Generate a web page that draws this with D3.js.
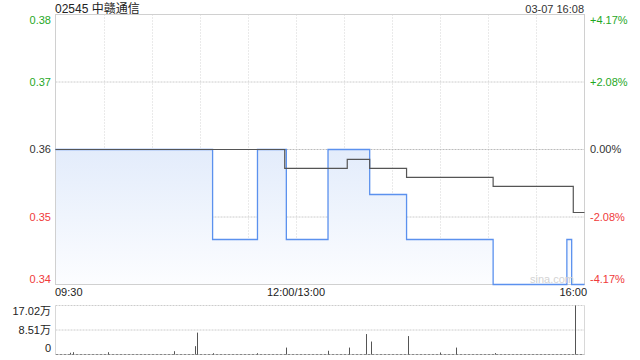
<!DOCTYPE html>
<html>
<head>
<meta charset="utf-8">
<script src="https://cdn.jsdelivr.net/npm/d3@7"></script>
<style>
  html, body { margin: 0; padding: 0; background: #fff; }
  svg { display: block; font-family: "Liberation Sans", Arial, "Noto Sans CJK SC", sans-serif; }
</style>
</head>
<body>
<div id="chart"></div>
<script>
// header texts
const stockCode = '02545';
const stockName = '中赣通信';
const stampText = '03-07 16:08';

// price axis (domain = prev close +/- 4.17%)
const priceTicks = [0.345, 0.3525, 0.36, 0.3675, 0.375];
const priceTickLabels = ['0.34', '0.35', '0.36', '0.37', '0.38'];
const pctTickLabels = ['-4.17%', '-2.08%', '0.00%', '+2.08%', '+4.17%'];
const prevClose = 0.36;

// time axis
const timeTicks = ['09:30', '12:00/13:00', '16:00'];

// price line, change points (HH:MM when the new price starts)
const priceTimes = ['09:30', '11:08', '11:36', '11:54', '13:20', '13:46', '14:09', '15:03', '15:49', '15:52', '16:00'];
const priceValues = [0.36, 0.35, 0.36, 0.35, 0.36, 0.355, 0.35, 0.345, 0.35, 0.345, 0.345];

// average price line, change points
const avgTimes = ['09:30', '11:53', '13:32', '13:46', '14:09', '15:03', '15:53', '16:00'];
const avgValues = [0.36, 0.3579, 0.3589, 0.3579, 0.3569, 0.3559, 0.353, 0.353];

// volume (shares)
const volTimes = ['09:39', '09:41', '10:03', '10:44', '10:57', '10:58', '11:08', '11:36', '11:54', '13:20',
  '13:33', '13:44', '13:47', '14:10', '14:30', '14:40', '15:04', '15:54'];
const volValues = [6000, 8000, 8000, 11500, 29000, 76000, 4500, 4500, 24000, 13000,
  24000, 71000, 45000, 64000, 7000, 24000, 5000, 170200];
const volTicks = [0, 85100, 170200];
const volTickLabels = ['0', '8.51万', '17.02万'];

const W = 640, H = 360;
const left = 55.5, right = 584.5;
const pTop = 14.5, pBottom = 284.5;
const vTop = 305.5, vBottom = 354.5;

// minutes since open, skipping the lunch break
function tradeIndex(s) {
  const [h, m] = s.split('/')[0].split(':').map(Number);
  const mins = h * 60 + m;
  return mins <= 720 ? mins - 570 : mins - 780 + 150;
}

const x = d3.scaleLinear().domain([0, 330]).range([left, right]);
const y = d3.scaleLinear().domain([priceTicks[0], priceTicks[4]]).range([pBottom, pTop]);
const yv = d3.scaleLinear().domain([0, volTicks[2]]).range([vBottom, vTop]);

const svg = d3.select('#chart').append('svg').attr('width', W).attr('height', H);

const defs = svg.append('defs');
const grad = defs.append('linearGradient').attr('id', 'areaFill')
  .attr('gradientUnits', 'userSpaceOnUse')
  .attr('x1', 0).attr('x2', 0).attr('y1', y(prevClose)).attr('y2', pBottom);
grad.append('stop').attr('offset', 0).attr('stop-color', '#e3ecfb');
grad.append('stop').attr('offset', 1).attr('stop-color', '#fcfdff');

// title
svg.append('text').attr('x', 55).attr('y', 13).attr('font-size', 12).attr('fill', '#222')
  .text(`${stockCode} ${stockName}`);
svg.append('text').attr('x', 584).attr('y', 13).attr('font-size', 11).attr('fill', '#333')
  .attr('text-anchor', 'end').text(stampText);

const colorFor = (v) => (v > prevClose ? '#1fa81f' : v < prevClose ? '#f03a3a' : '#333');

// vertical grid (price panel only)
const grid = svg.append('g').attr('class', 'grid');
d3.range(30, 330, 30).forEach((t) => {
  const gx = Math.round(x(t)) + 0.5;
  grid.append('line').attr('x1', gx).attr('x2', gx).attr('y1', pTop).attr('y2', pBottom)
    .attr('stroke', '#d4d4d4').attr('stroke-dasharray', '1,2');
});
// horizontal grid
priceTicks.slice(1, 4).forEach((v) => {
  grid.append('line').attr('x1', left).attr('x2', right).attr('y1', y(v)).attr('y2', y(v))
    .attr('stroke', v === prevClose ? '#bbb' : '#ccc').attr('stroke-dasharray', '2,1');
});

// area + price line
const pts = priceTimes.map((t, i) => [tradeIndex(t), priceValues[i]]);
const area = d3.area().curve(d3.curveStepAfter)
  .x((d) => x(d[0])).y0(pBottom).y1((d) => y(d[1]));
svg.append('path').datum(pts).attr('d', area).attr('fill', 'url(#areaFill)');

// frame
svg.append('rect').attr('x', left).attr('y', pTop).attr('width', right - left).attr('height', pBottom - pTop)
  .attr('fill', 'none').attr('stroke', '#d0d0d0');

const line = d3.line().curve(d3.curveStepAfter).x((d) => x(d[0])).y((d) => y(d[1]));
svg.append('path').datum(pts).attr('d', line)
  .attr('fill', 'none').attr('stroke', '#5b91ee').attr('stroke-width', 1.3);

const avgPts = avgTimes.map((t, i) => [tradeIndex(t), avgValues[i]]);
svg.append('path').datum(avgPts).attr('d', line)
  .attr('fill', 'none').attr('stroke', '#555').attr('stroke-width', 1.2);

// watermark
svg.append('text').attr('x', 574).attr('y', 283).attr('text-anchor', 'end')
  .attr('font-size', 11).attr('fill', '#d3d3d3').text('sina.com');

// price labels
const nudge = [-5, 0, 0, 0, 6];
priceTicks.forEach((v, i) => {
  const ty = y(v) + nudge[i];
  svg.append('text').attr('x', 51).attr('y', ty).attr('dy', '0.35em').attr('text-anchor', 'end')
    .attr('font-size', 11).attr('fill', colorFor(v)).text(priceTickLabels[i]);
  svg.append('text').attr('x', 590).attr('y', ty).attr('dy', '0.35em')
    .attr('font-size', 11).attr('fill', colorFor(v)).text(pctTickLabels[i]);
});

// time labels
const anchors = ['start', 'middle', 'end'];
timeTicks.forEach((t, i) => {
  svg.append('text').attr('x', i === 2 ? 587 : x(tradeIndex(t)) - (i === 0 ? 0.5 : 0)).attr('y', 296)
    .attr('text-anchor', anchors[i]).attr('font-size', 11).attr('fill', '#222').text(t);
});

// volume panel
const vol = svg.append('g').attr('class', 'vol');
[volTicks[1], volTicks[2]].forEach((v) => {
  vol.append('line').attr('x1', left).attr('x2', right).attr('y1', yv(v)).attr('y2', yv(v))
    .attr('stroke', '#ccc').attr('stroke-dasharray', '2,1');
});
vol.append('line').attr('x1', left).attr('x2', right).attr('y1', vBottom).attr('y2', vBottom)
  .attr('stroke', '#888').attr('stroke-dasharray', '3,1');
[left, right].forEach((bx) => {
  vol.append('line').attr('x1', bx).attr('x2', bx).attr('y1', vTop).attr('y2', vBottom).attr('stroke', '#d8d8d8');
});
vol.selectAll('line.bar').data(volTimes).enter().append('line').attr('class', 'bar')
  .attr('x1', (t) => Math.round(x(tradeIndex(t))) + 0.5)
  .attr('x2', (t) => Math.round(x(tradeIndex(t))) + 0.5)
  .attr('y1', vBottom)
  .attr('y2', (t, i) => yv(volValues[i]))
  .attr('stroke', '#555');

const vNudge = [-6, 0, 6];
volTicks.forEach((v, i) => {
  vol.append('text').attr('x', 51).attr('y', yv(v) + vNudge[i]).attr('dy', '0.35em').attr('text-anchor', 'end')
    .attr('font-size', 11).attr('fill', '#222').text(volTickLabels[i]);
});
</script>
</body>
</html>
